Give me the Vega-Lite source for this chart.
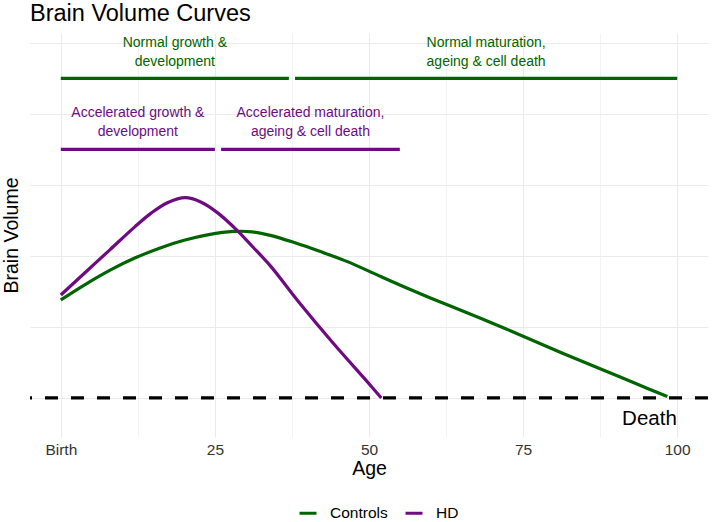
{
  "$schema": "https://vega.github.io/schema/vega-lite/v6.json",
  "width": 678,
  "height": 404,
  "autosize": {"type": "none"},
  "padding": {"left": 30, "top": 33, "right": 6, "bottom": 85},
  "background": "white",
  "title": {"text": "Brain Volume Curves", "anchor": "start", "frame": "group", "fontSize": 23.5, "font": "Liberation Sans", "fontWeight": "normal", "color": "black", "offset": 8},
  "config": {"view": {"stroke": null}, "font": "Liberation Sans"},
  "datasets": {
    "curves": [
      {"group": "Controls", "age": 0, "volume": 1.38},
      {"group": "Controls", "age": 4, "volume": 1.6},
      {"group": "Controls", "age": 8, "volume": 1.8},
      {"group": "Controls", "age": 12, "volume": 1.97},
      {"group": "Controls", "age": 16, "volume": 2.11},
      {"group": "Controls", "age": 20, "volume": 2.22},
      {"group": "Controls", "age": 24, "volume": 2.3},
      {"group": "Controls", "age": 28, "volume": 2.345},
      {"group": "Controls", "age": 31, "volume": 2.34},
      {"group": "Controls", "age": 34, "volume": 2.29},
      {"group": "Controls", "age": 38, "volume": 2.185},
      {"group": "Controls", "age": 42, "volume": 2.065},
      {"group": "Controls", "age": 46.5, "volume": 1.92},
      {"group": "Controls", "age": 50.5, "volume": 1.765},
      {"group": "Controls", "age": 55, "volume": 1.59},
      {"group": "Controls", "age": 58.8, "volume": 1.45},
      {"group": "Controls", "age": 62.6, "volume": 1.315},
      {"group": "Controls", "age": 68, "volume": 1.125},
      {"group": "Controls", "age": 75, "volume": 0.87},
      {"group": "Controls", "age": 81.4, "volume": 0.63},
      {"group": "Controls", "age": 87.4, "volume": 0.415},
      {"group": "Controls", "age": 92.8, "volume": 0.22},
      {"group": "Controls", "age": 98.4, "volume": 0.02},
      {"group": "HD", "age": 0, "volume": 1.45},
      {"group": "HD", "age": 4, "volume": 1.77},
      {"group": "HD", "age": 8, "volume": 2.09},
      {"group": "HD", "age": 12, "volume": 2.41},
      {"group": "HD", "age": 14.6, "volume": 2.6},
      {"group": "HD", "age": 17.3, "volume": 2.75},
      {"group": "HD", "age": 20.2, "volume": 2.82},
      {"group": "HD", "age": 22.7, "volume": 2.76},
      {"group": "HD", "age": 25.4, "volume": 2.61},
      {"group": "HD", "age": 28.6, "volume": 2.36},
      {"group": "HD", "age": 31, "volume": 2.14},
      {"group": "HD", "age": 34, "volume": 1.86},
      {"group": "HD", "age": 38.8, "volume": 1.33},
      {"group": "HD", "age": 44.2, "volume": 0.77},
      {"group": "HD", "age": 49.6, "volume": 0.24},
      {"group": "HD", "age": 52, "volume": 0}
    ],
    "segments": [
      {"group": "Controls", "age": 0, "age_end": 37, "volume": 4.5},
      {"group": "Controls", "age": 38, "age_end": 100, "volume": 4.5},
      {"group": "HD", "age": 0, "age_end": 25, "volume": 3.5},
      {"group": "HD", "age": 26, "age_end": 55, "volume": 3.5}
    ],
    "labels": [
      {"group": "Controls", "age": 18.5, "volume": 5.0, "label": "Normal growth &\ndevelopment"},
      {"group": "Controls", "age": 69, "volume": 5.0, "label": "Normal maturation,\nageing & cell death"},
      {"group": "HD", "age": 12.5, "volume": 4.01, "label": "Accelerated growth &\ndevelopment"},
      {"group": "HD", "age": 40.5, "volume": 4.01, "label": "Accelerated maturation,\nageing & cell death"}
    ],
    "death": [
      {"age": 95.5, "volume": -0.3, "level": 0, "label": "Death"}
    ]
  },
  "layer": [
    {
      "data": {"name": "curves"},
      "mark": {"type": "line", "strokeWidth": 3.2, "interpolate": "catmull-rom", "strokeCap": "butt"},
      "encoding": {
        "x": {
          "field": "age", "type": "quantitative",
          "scale": {"domain": [-5, 105], "nice": false, "zero": false},
          "axis": {
            "title": "Age",
            "values": [0, 12.5, 25, 37.5, 50, 62.5, 75, 87.5, 100],
            "labelExpr": "datum.value == 0 ? 'Birth' : (datum.value % 25 == 0 ? datum.label : '')",
            "domain": false, "ticks": false, "tickSize": 0,
            "labelPadding": 5, "labelFontSize": 15.5, "labelColor": "#333333", "labelFont": "Liberation Sans",
            "labelFlush": false, "labelOverlap": false,
            "titleFontSize": 19.5, "titleFont": "Liberation Sans", "titleFontWeight": "normal", "titleColor": "black",
            "titleY": 31, "titleBaseline": "middle",
            "gridColor": "#EBEBEB",
            "gridWidth": {"condition": {"test": "datum.value % 25 == 0", "value": 1.1}, "value": 0.6}
          }
        },
        "y": {
          "field": "volume", "type": "quantitative",
          "scale": {"domain": [-0.55, 5.14], "nice": false, "zero": false},
          "axis": {
            "title": "Brain Volume",
            "values": [0, 1, 2, 3, 4, 5],
            "labels": false, "ticks": false, "tickSize": 0, "domain": false,
            "titleX": -18.5, "titleY": 202, "titleAngle": -90, "titleBaseline": "middle", "titleAlign": "center",
            "titleFontSize": 19.5, "titleFont": "Liberation Sans", "titleFontWeight": "normal", "titleColor": "black",
            "gridColor": "#EBEBEB", "gridWidth": 1.1
          }
        },
        "color": {
          "field": "group", "type": "nominal",
          "scale": {"domain": ["Controls", "HD"], "range": ["#006400", "#6E0B82"]},
          "legend": {
            "orient": "none", "legendX": 268, "legendY": 470, "direction": "horizontal", "title": null,
            "symbolType": "stroke", "symbolSize": 289, "symbolStrokeWidth": 3,
            "labelFontSize": 15.5, "labelFont": "Liberation Sans", "labelColor": "black",
            "labelOffset": 12, "columnPadding": 11, "padding": 0
          }
        }
      }
    },
    {
      "data": {"name": "death"},
      "mark": {"type": "rule", "strokeDash": [13, 13], "strokeWidth": 3.3, "color": "black", "strokeCap": "butt"},
      "encoding": {
        "y": {"field": "level", "type": "quantitative"}
      }
    },
    {
      "data": {"name": "segments"},
      "mark": {"type": "rule", "strokeWidth": 3.2, "strokeCap": "butt"},
      "encoding": {
        "x": {"field": "age", "type": "quantitative"},
        "x2": {"field": "age_end"},
        "y": {"field": "volume", "type": "quantitative"},
        "color": {"field": "group", "type": "nominal"}
      }
    },
    {
      "data": {"name": "labels"},
      "mark": {"type": "text", "fontSize": 14, "lineHeight": 19, "baseline": "middle", "align": "center", "lineBreak": "\n", "font": "Liberation Sans"},
      "encoding": {
        "x": {"field": "age", "type": "quantitative"},
        "y": {"field": "volume", "type": "quantitative"},
        "text": {"field": "label"},
        "color": {"field": "group", "type": "nominal"}
      }
    },
    {
      "data": {"name": "death"},
      "mark": {"type": "text", "fontSize": 20.5, "baseline": "middle", "align": "center", "font": "Liberation Sans", "color": "black"},
      "encoding": {
        "x": {"field": "age", "type": "quantitative"},
        "y": {"field": "volume", "type": "quantitative"},
        "text": {"field": "label"}
      }
    }
  ]
}
